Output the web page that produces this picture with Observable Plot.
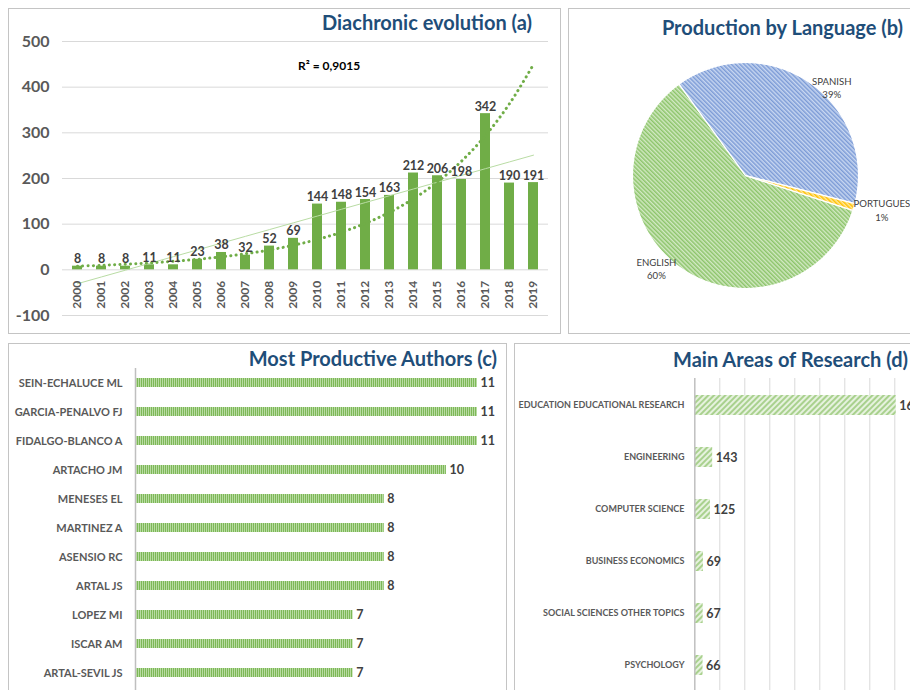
<!DOCTYPE html>
<html>
<head>
<meta charset="utf-8">
<script src="https://cdn.jsdelivr.net/npm/d3@7"></script>
<script src="https://cdn.jsdelivr.net/npm/@observablehq/plot@0.6"></script>
<style>
  html, body { margin: 0; padding: 0; background: #fff; }
  body { position: relative; width: 910px; height: 690px; overflow: hidden; font-family: Lato, "Open Sans", sans-serif; }
  .panel { position: absolute; border: 1px solid #C4C4C4; background: #fff; box-sizing: border-box; overflow: hidden; }
  .panel svg { position: absolute; left: 0; top: 0; max-width: none !important; }
  .title { position: absolute; color: #1F4E79; font-weight: bold; font-size: 20px; line-height: 24px; white-space: nowrap; text-align: right; }
  .note { position: absolute; color: #000; font-weight: bold; font-size: 12px; white-space: nowrap; }
</style>
</head>
<body>
<div id="pa" class="panel" style="left:8px;top:8px;width:553px;height:326px"></div>
<div id="pb" class="panel" style="left:568px;top:8px;width:350px;height:326px"></div>
<div id="pc" class="panel" style="left:8px;top:343px;width:499px;height:360px"></div>
<div id="pd" class="panel" style="left:514px;top:343px;width:410px;height:360px"></div>
<div class="title" style="right:378px;top:10px">Diachronic evolution (a)</div>
<div class="title" style="right:7px;top:15px">Production by Language (b)</div>
<div class="title" style="right:413px;top:346px">Most Productive Authors (c)</div>
<div class="title" style="right:2px;top:347px">Main Areas of Research (d)</div>
<div id="r2" class="note" style="left:298px;top:58px"></div>
<script>
// ---------- DATA ----------
const years = ["2000","2001","2002","2003","2004","2005","2006","2007","2008","2009",
               "2010","2011","2012","2013","2014","2015","2016","2017","2018","2019"];
const publications = [8, 8, 8, 11, 11, 23, 38, 32, 52, 69, 144, 148, 154, 163, 212, 206, 198, 342, 190, 191];
const yTicks = [-100, 0, 100, 200, 300, 400, 500];
const r2Label = "R² = 0,9015";

const languages = ["ENGLISH", "SPANISH", "PORTUGUES"];
const languageShare = [60, 39, 1];

const authors = ["SEIN-ECHALUCE ML", "GARCIA-PENALVO FJ", "FIDALGO-BLANCO A", "ARTACHO JM", "MENESES EL",
                 "MARTINEZ A", "ASENSIO RC", "ARTAL JS", "LOPEZ MI", "ISCAR AM", "ARTAL-SEVIL JS"];
const authorCounts = [11, 11, 11, 10, 8, 8, 8, 8, 7, 7, 7];

const areas = ["EDUCATION EDUCATIONAL RESEARCH", "ENGINEERING", "COMPUTER SCIENCE",
               "BUSINESS ECONOMICS", "SOCIAL SCIENCES OTHER TOPICS", "PSYCHOLOGY"];
const areaCounts = [1611, 143, 125, 69, 67, 66];
const areaGridTicks = [0, 200, 400, 600, 800, 1000, 1200, 1400, 1600, 1800];

// ---------- HELPERS ----------
const FONT = "Lato, 'Open Sans', sans-serif";
const NS = "http://www.w3.org/2000/svg";
function addPatterns(svg, defsList) {
  const defs = document.createElementNS(NS, "defs");
  for (const p of defsList) {
    const pat = document.createElementNS(NS, "pattern");
    pat.setAttribute("id", p.id);
    pat.setAttribute("width", p.size);
    pat.setAttribute("height", p.size);
    pat.setAttribute("patternUnits", "userSpaceOnUse");
    pat.setAttribute("patternTransform", `rotate(${p.angle})`);
    const bg = document.createElementNS(NS, "rect");
    bg.setAttribute("width", p.size); bg.setAttribute("height", p.size); bg.setAttribute("fill", p.bg);
    const fg = document.createElementNS(NS, "rect");
    fg.setAttribute("width", p.w); fg.setAttribute("height", p.size); fg.setAttribute("fill", p.fg);
    pat.appendChild(bg); pat.appendChild(fg);
    defs.appendChild(pat);
  }
  svg.insertBefore(defs, svg.firstChild);
}
function styleFor(size, weight, color) {
  return {fontFamily: FONT, fontSize: size + "px", fontWeight: weight, color: color, background: "transparent", overflow: "visible"};
}

// ---------- (a) Diachronic evolution ----------
const yearData = years.map((y, i) => ({year: y, value: publications[i], i}));
const xs = yearData.map(d => d.i);
const mx = d3.mean(xs);
function fit(vals) {
  const my = d3.mean(vals);
  const sxy = d3.sum(xs, (x, k) => (x - mx) * (vals[k] - my));
  const sxx = d3.sum(xs, x => (x - mx) ** 2);
  const b = sxy / sxx;
  return {a: my - b * mx, b};
}
const linFit = fit(publications);
const expFit = fit(publications.map(Math.log));
const trend = yearData.map(d => ({year: d.year, lin: linFit.a + linFit.b * d.i, exp: Math.exp(expFit.a + expFit.b * d.i)}));

const plotA = Plot.plot({
  width: 551, height: 324,
  marginLeft: 53, marginRight: 12, marginTop: 32, marginBottom: 18,
  style: styleFor(16, "bold", "#595959"),
  x: {domain: years, paddingInner: 0.58, paddingOuter: 0.29, axis: null},
  y: {domain: [-100, 500], ticks: yTicks, tickSize: 0, tickPadding: 13, label: null, tickFormat: d => String(d)},
  marks: [
    Plot.ruleY(yTicks, {stroke: "#D9D9D9", strokeWidth: 1}),
    Plot.barY(yearData, {x: "year", y: "value", fill: "#70AD47"}),
    Plot.line(trend, {x: "year", y: "lin", stroke: "#B9DCA4", strokeWidth: 1}),
    Plot.line(trend, {x: "year", y: "exp", stroke: "#70AD47", strokeWidth: 3, strokeDasharray: "0.1 5.2", strokeLinecap: "round", curve: "catmull-rom"}),
    Plot.text(yearData, {x: "year", y: "value", text: d => String(d.value), dy: -3, lineAnchor: "bottom", fill: "#404040", fontSize: 12.5}),
    Plot.text(yearData, {x: "year", y: () => 0, text: "year", rotate: -90, textAnchor: "end", dy: 11, fill: "#595959", fontSize: 12})
  ]
});
document.getElementById("pa").appendChild(plotA);
document.getElementById("r2").textContent = r2Label;

// ---------- (b) Production by Language ----------
const startDeg = 108;
const pieArcs = d3.pie().sort(null)
  .startAngle(startDeg * Math.PI / 180)
  .endAngle(startDeg * Math.PI / 180 + 2 * Math.PI)(languageShare);
const pieIds = ["pEn", "pEs", "pPt"];
const slices = pieArcs.map((a, k) => {
  const pts = [{x: 0, y: 0}];
  const steps = Math.max(2, Math.ceil((a.endAngle - a.startAngle) / 0.02));
  for (let s = 0; s <= steps; s++) {
    const t = a.startAngle + (a.endAngle - a.startAngle) * s / steps;
    pts.push({x: Math.sin(t), y: Math.cos(t)});
  }
  pts.push({x: 0, y: 0});
  return {lang: languages[k], pts, mid: (a.startAngle + a.endAngle) / 2};
});
const R = 113;
const pieLabels = slices.map((s, k) => {
  const sx = Math.sin(s.mid), cy = Math.cos(s.mid);
  const side = sx >= 0 ? 1 : -1;
  const halfW = s.lang.length * 6 / 2 + 3;
  return {
    x: 0.98 * sx + side * halfW / R,
    y: 0.98 * cy - 0.03,
    label: s.lang + "\n" + languageShare[k] + "%"
  };
});
const plotB = Plot.plot({
  width: 342, height: 324, margin: 0,
  style: styleFor(10, "normal", "#404040"),
  x: {domain: [-1, 1], range: [176 - R, 176 + R], axis: null},
  y: {domain: [-1, 1], range: [166 + R, 166 - R], axis: null},
  marks: [
    ...slices.map((s, k) => Plot.line(s.pts, {x: "x", y: "y", fill: `url(#${pieIds[k]})`, stroke: "#fff", strokeWidth: 1.2})),
    Plot.text(pieLabels, {x: "x", y: "y", text: "label", textAnchor: "middle", lineAnchor: "middle", lineHeight: 1.4, fill: "#404040", fontSize: 9.6})
  ]
});
addPatterns(plotB, [
  {id: "pEn", size: 3, angle: -45, bg: "#D2E9C3", fg: "#8CC46A", w: 1.5},
  {id: "pEs", size: 3, angle: -45, bg: "#C8D7F1", fg: "#7C9BD6", w: 1.5},
  {id: "pPt", size: 3, angle: -45, bg: "#FFE9A0", fg: "#FFC000", w: 1.5}
]);
document.getElementById("pb").appendChild(plotB);

// ---------- (c) Most Productive Authors ----------
const authorData = authors.map((a, i) => ({author: a, n: authorCounts[i]}));
const plotC = Plot.plot({
  width: 497, height: 346,
  marginTop: 24, marginBottom: 0, marginLeft: 126, marginRight: 29,
  style: styleFor(11, "bold", "#595959"),
  x: {domain: [0, 11], range: [126, 468], axis: null},
  y: {domain: authors, range: [23.5, 342.5], paddingInner: 0.69, paddingOuter: 0.345, tickSize: 0, tickPadding: 13, label: null},
  marks: [
    Plot.barX(authorData, {x: "n", y: "author", fill: "url(#pC)"}),
    Plot.ruleX([0], {stroke: "#BFBFBF", strokeWidth: 1.5}),
    Plot.text(authorData, {x: "n", y: "author", text: d => String(d.n), textAnchor: "start", dx: 3, fill: "#404040", fontSize: 12.5})
  ]
});
addPatterns(plotC, [{id: "pC", size: 2, angle: 0, bg: "#B8DBA2", fg: "#7DB857", w: 1}]);
document.getElementById("pc").appendChild(plotC);

// ---------- (d) Main Areas of Research ----------
const areaData = areas.map((a, i) => ({area: a, n: areaCounts[i]}));
const plotD = Plot.plot({
  width: 396, height: 346,
  marginTop: 34, marginBottom: 0, marginLeft: 179, marginRight: 0,
  style: styleFor(9, "bold", "#595959"),
  x: {domain: [0, 1800], range: [179.3, 404.3], axis: null},
  y: {domain: areas, range: [33.75, 348.75], paddingInner: 0.62, paddingOuter: 0.31, tickSize: 0, tickPadding: 10, label: null},
  marks: [
    Plot.ruleX(areaGridTicks.slice(1), {stroke: "#D9D9D9", strokeWidth: 1}),
    Plot.barX(areaData, {x: "n", y: "area", fill: "url(#pD)"}),
    Plot.ruleX([0], {stroke: "#BFBFBF", strokeWidth: 1.5}),
    Plot.text(areaData, {x: "n", y: "area", text: d => String(d.n), textAnchor: "start", dx: 3, fill: "#404040", fontSize: 12.5})
  ]
});
addPatterns(plotD, [{id: "pD", size: 4, angle: 45, bg: "#E6F2DE", fg: "#A9D18E", w: 2}]);
document.getElementById("pd").appendChild(plotD);
</script>
</body>
</html>
